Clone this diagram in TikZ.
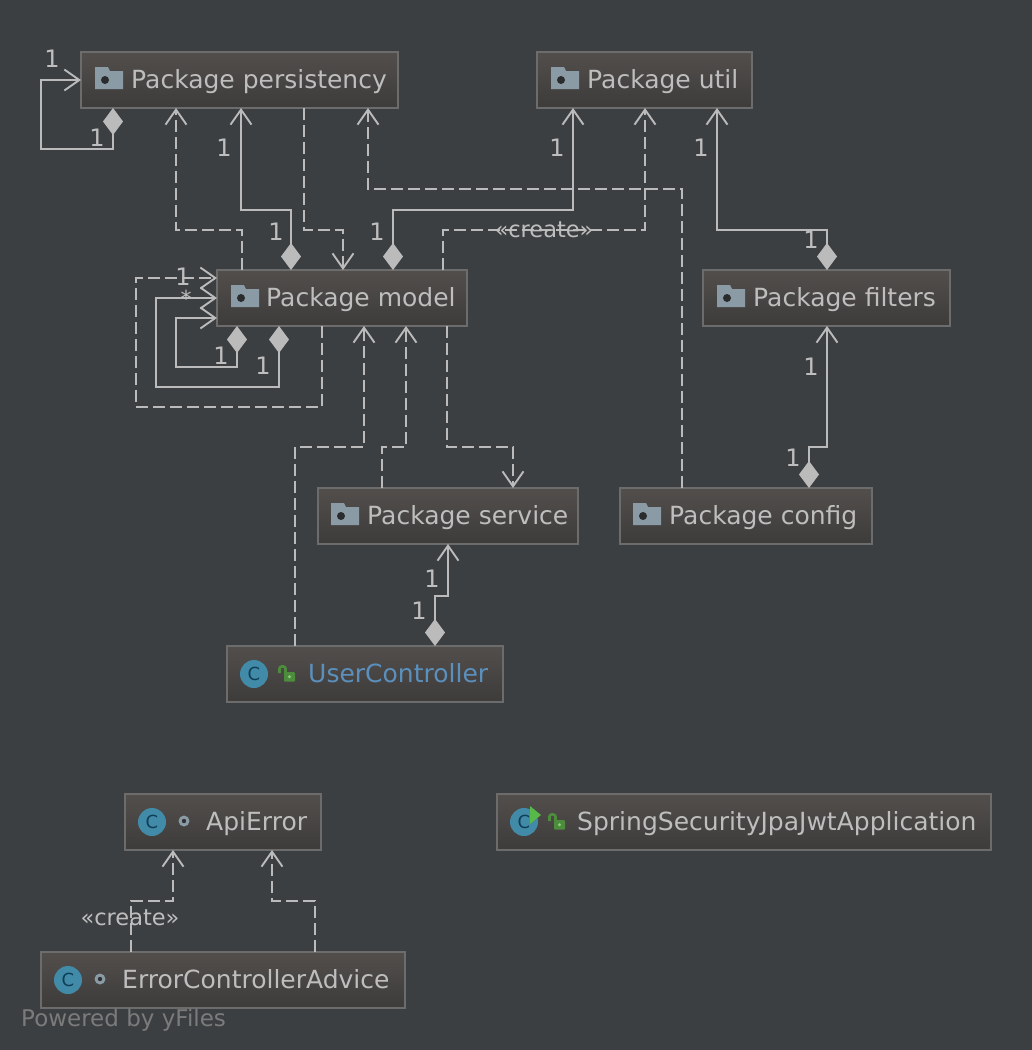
\documentclass[tikz,border=0pt]{standalone}
\usepackage{fontspec}
\setmainfont{DejaVu Sans}
\usetikzlibrary{arrows.meta,shadings}
\definecolor{bg}{HTML}{3C3F41}
\definecolor{ln}{HTML}{BBBBBB}
\definecolor{edge}{HTML}{6C6C6C}
\definecolor{txt}{HTML}{BEBEBE}
\definecolor{ublue}{HTML}{5B90BC}
\definecolor{cblue}{HTML}{418AA8}
\definecolor{cdark}{HTML}{0F3F56}
\definecolor{fold}{HTML}{8A9BA6}
\definecolor{lock}{HTML}{4C8C3C}
\definecolor{grn}{HTML}{59B84A}
\definecolor{boxtop}{HTML}{524E4C}
\definecolor{boxbot}{HTML}{3D3C3B}
\tikzset{
  box/.style={draw=edge,line width=2pt,top color=boxtop,bottom color=boxbot,anchor=north west,minimum height=56pt,inner sep=0pt,outer sep=0pt},
  lab/.style={text=txt,anchor=base west,inner sep=0pt,font=\fontsize{25}{28}\selectfont},
  mult/.style={text=txt,inner sep=0pt,font=\fontsize{24}{26}\selectfont},
  starlab/.style={text=txt,inner sep=0pt,font=\fontsize{22}{26}\selectfont},
  stereo/.style={text=txt,inner sep=0pt,font=\fontsize{22.5}{26}\selectfont},
  conn/.style={draw=ln,line width=1.9pt,line join=miter},
  dashconn/.style={conn,dash pattern=on 12pt off 5pt},
  opentip/.tip={Straight Barb[length=15pt,width=21pt,line width=1.9pt]},
  diatip/.tip={Diamond[length=27pt,width=20pt,fill=ln,color=ln,line width=0pt]},
}
\newcommand\foldicon[2]{\begin{scope}[shift={(#1,#2)}]
  \fill[fold] (0,0) -- (13,0) -- (15,4) -- (28,4) -- (28,22) -- (0,22) -- cycle;
  \fill[bg!70!black] (10,13) circle (4);
\end{scope}}
\newcommand\cicon[2]{\begin{scope}[shift={(#1,#2)}]
  \fill[cblue] (0,0) circle (14);
  \node[text=cdark,inner sep=0pt,font=\fontsize{18}{18}\selectfont] at (0,0) {C};
\end{scope}}
\newcommand\lockicon[2]{\begin{scope}[shift={(#1,#2)}]
  \draw[lock,line width=2.6pt,rounded corners=2pt] (1.5,8) -- (1.5,1.5) -- (7.5,1.5) -- (7.5,8);
  \fill[lock,rounded corners=1pt] (6,7) rectangle (17,16.5);
  \fill[grn!70!white] (11.5,11.8) circle (1.6);
\end{scope}}
\newcommand\dotic[2]{\fill[fold] (#1,#2) circle (5.5);\fill[bg!80!black] (#1,#2) circle (2.2);}
\begin{document}
\begin{tikzpicture}[x=1pt,y=-1pt]
\useasboundingbox (0,0) rectangle (1032,1050);
\fill[bg] (0,0) rectangle (1032,1050);
% boxes
\node[box,minimum width=317pt] (persist) at (81,52) {};
\node[box,minimum width=215pt] (util) at (537,52) {};
\node[box,minimum width=250pt] (model) at (217,270) {};
\node[box,minimum width=247pt] (filters) at (703,270) {};
\node[box,minimum width=260pt] (service) at (318,488) {};
\node[box,minimum width=252pt] (config) at (620,488) {};
\node[box,minimum width=276pt] (user) at (227,646) {};
\node[box,minimum width=196pt] (apierr) at (125,794) {};
\node[box,minimum width=494pt] (spring) at (497,794) {};
\node[box,minimum width=364pt] (advice) at (41,952) {};
% icons
\foldicon{95}{67}\foldicon{551}{67}\foldicon{231}{285}\foldicon{717}{285}\foldicon{331}{503}\foldicon{633}{503}
\cicon{254}{674}\lockicon{278}{665}
\cicon{152}{822}\dotic{184}{821}
\cicon{524}{822}\lockicon{548}{813}
\fill[grn] (530,806) -- (541,815) -- (530,824) -- cycle;
\cicon{68}{980}\dotic{100}{979}
% labels
\node[lab] (tpersist) at (131,88) {Package persistency};
\node[lab] (tutil) at (587,88) {Package util};
\node[lab] (tmodel) at (266,306) {Package model};
\node[lab] (tfilters) at (753,306) {Package filters};
\node[lab] (tservice) at (367,524) {Package service};
\node[lab] (tconfig) at (669,524) {Package config};
\node[lab,text=ublue] (tuser) at (308,682) {UserController};
\node[lab] (tapi) at (206,830) {ApiError};
\node[lab] (tspring) at (577,830) {SpringSecurityJpaJwtApplication};
\node[lab] (tadvice) at (122,988) {ErrorControllerAdvice};
% connectors
\draw[conn,{diatip}-{opentip}] ([xshift=32pt]persist.south west) -- ++(0,41) -- ++(-72,0) |- (persist.west);
\draw[dashconn,-{opentip}] ([xshift=25pt]model.north west) -- ++(0,-40) -| ([xshift=95pt]persist.south west);
\draw[conn,{diatip}-{opentip}] ([xshift=74pt]model.north west) -- ++(0,-60) -| ([xshift=160pt]persist.south west);
\draw[dashconn,-{opentip}] ([xshift=223pt]persist.south west) -- ++(0,122) -| ([xshift=126pt]model.north west);
\draw[conn,{diatip}-{opentip}] ([xshift=176pt]model.north west) -- ++(0,-60) -| ([xshift=36pt]util.south west);
\draw[dashconn,-{opentip}] ([xshift=226pt]model.north west) -- ++(0,-40) -| ([xshift=108pt]util.south west);
\draw[dashconn,-{opentip}] ([xshift=62pt]config.north west) -- ++(0,-299) -| ([xshift=287pt]persist.south west);
\draw[conn,{diatip}-{opentip}] ([xshift=124pt]filters.north west) -- ++(0,-40) -| ([xshift=180pt]util.south west);
\draw[conn,{diatip}-{opentip}] ([xshift=189pt]config.north west) -- ++(0,-41) -| ([xshift=124pt]filters.south west);
\draw[conn,{diatip}-{opentip}] ([xshift=208pt]user.north west) -- ++(0,-50) -| ([xshift=130pt]service.south west);
\draw[dashconn,-{opentip}] ([xshift=68pt]user.north west) -- ++(0,-199) -| ([xshift=147pt]model.south west);
\draw[dashconn,-{opentip}] ([xshift=64pt]service.north west) -- ++(0,-41) -| ([xshift=189pt]model.south west);
\draw[dashconn,-{opentip}] ([xshift=230pt]model.south west) -- ++(0,121) -| ([xshift=195pt]service.north west);
\draw[dashconn,-{opentip}] ([xshift=105pt]model.south west) -- ++(0,81) -- ++(-186,0) |- ([yshift=20pt]model.west);
\draw[conn,{diatip}-{opentip}] ([xshift=62pt]model.south west) -- ++(0,61) -- ++(-123,0) |- (model.west);
\draw[conn,{diatip}-{opentip}] ([xshift=20pt]model.south west) -- ++(0,41) -- ++(-61,0) |- ([yshift=-20pt]model.west);
\draw[dashconn,-{opentip}] ([xshift=90pt]advice.north west) -- ++(0,-51) -| ([xshift=48pt]apierr.south west);
\draw[dashconn,-{opentip}] ([xshift=274pt]advice.north west) -- ++(0,-51) -| ([xshift=147pt]apierr.south west);
% multiplicities
\node[mult] (m1) at (52,59) {1};
\node[mult] (m2) at (97,138) {1};
\node[mult] (m3) at (224,148) {1};
\node[mult] (m4) at (276,232) {1};
\node[mult] (m5) at (377,232) {1};
\node[mult] (m6) at (557,148) {1};
\node[mult] (m7) at (701,148) {1};
\node[mult] (m8) at (811,240) {1};
\node[mult] (m9) at (811,367) {1};
\node[mult] (m10) at (793,458) {1};
\node[mult] (m11) at (432,579) {1};
\node[mult] (m12) at (419,611) {1};
\node[mult] (m13) at (183,277) {1};
\node[starlab] (m14) at (186,298) {*};
\node[mult] (m15) at (221,356) {1};
\node[mult] (m16) at (263,366) {1};
\node[stereo] (c1) at (544,230) {«create»};
\node[stereo] (c2) at (130,918) {«create»};
\node[text=edge!90!white,inner sep=0pt,anchor=base west,font=\fontsize{23}{26}\selectfont] (pow) at (21,1026) {Powered by yFiles};
\end{tikzpicture}
\end{document}
